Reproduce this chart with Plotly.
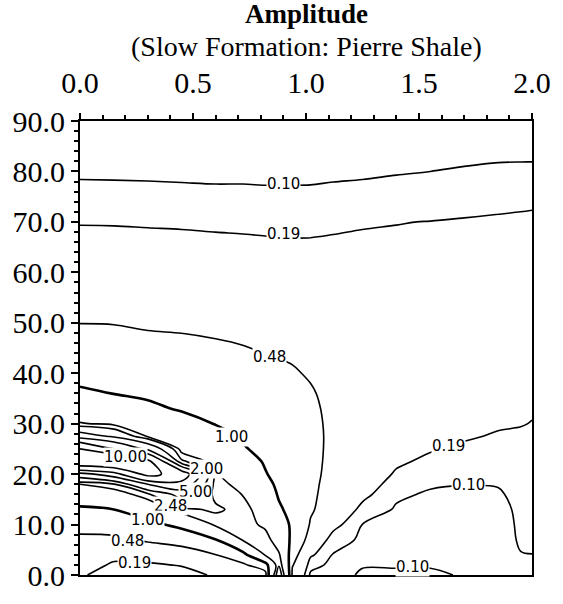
import numpy as np
import plotly.graph_objects as go

# Grid of the amplitude field: x = frequency ratio, y = angle (degrees)
x_vals = [0.0, 0.15, 0.3, 0.45, 0.6, 0.72, 0.82, 0.88, 0.94, 1.02,
          1.12, 1.25, 1.4, 1.55, 1.7, 1.85, 1.95, 2.0]
y_vals = [0, 2, 4, 7, 10, 13, 16, 18, 20, 22.5, 25, 27.5, 30, 33, 36,
          40, 45, 50, 57, 64, 70, 76, 82, 90]

# Amplitude along each x column (bottom to top, one value per y_vals entry)
amp_x000 = [0.21, 0.26, 0.31, 0.41, 0.60, 0.90, 1.40, 2.00, 4.30, 13.0, 10.0, 4.20,
            2.05, 1.45, 1.08, 0.84, 0.62, 0.475, 0.34, 0.245, 0.183, 0.108, 0.088, 0.07]
amp_x015 = [0.12, 0.17, 0.23, 0.41, 0.65, 1.00, 1.60, 2.40, 6.0, 14.0, 7.0, 3.3,
            1.85, 1.35, 0.99, 0.80, 0.60, 0.47, 0.335, 0.243, 0.182, 0.108, 0.087, 0.07]
amp_x030 = [0.11, 0.17, 0.26, 0.52, 0.85, 1.35, 2.35, 5.0, 11.0, 10.8, 4.6, 1.93,
            1.53, 1.10, 0.92, 0.76, 0.57, 0.44, 0.33, 0.24, 0.178, 0.107, 0.087, 0.07]
amp_x045 = [0.13, 0.20, 0.33, 0.60, 1.15, 2.30, 4.0, 6.3, 8.5, 2.6, 1.75, 1.45,
            1.20, 0.95, 0.83, 0.67, 0.55, 0.43, 0.32, 0.235, 0.175, 0.106, 0.086, 0.069]
amp_x060 = [0.21, 0.30, 0.47, 0.98, 2.10, 2.60, 2.30, 2.20, 2.05, 1.75, 1.40, 1.18,
            0.98, 0.87, 0.76, 0.64, 0.52, 0.41, 0.31, 0.225, 0.172, 0.105, 0.085, 0.068]
amp_x072 = [0.28, 0.42, 0.75, 2.05, 2.30, 2.25, 1.98, 1.80, 1.50, 1.25, 1.04, 0.95,
            0.88, 0.79, 0.70, 0.60, 0.49, 0.40, 0.30, 0.22, 0.170, 0.105, 0.085, 0.068]
amp_x082 = [0.35, 0.70, 2.05, 2.30, 1.85, 1.60, 1.30, 1.15, 1.03, 0.95, 0.88, 0.82,
            0.75, 0.68, 0.62, 0.55, 0.46, 0.39, 0.30, 0.215, 0.168, 0.104, 0.085, 0.068]
amp_x088 = [3.0, 2.40, 2.10, 1.55, 1.30, 1.07, 0.95, 0.90, 0.85, 0.80, 0.75, 0.71,
            0.67, 0.62, 0.57, 0.52, 0.45, 0.38, 0.29, 0.21, 0.167, 0.104, 0.085, 0.068]
amp_x094 = [0.40, 0.50, 0.60, 0.85, 0.90, 0.85, 0.80, 0.77, 0.74, 0.70, 0.67, 0.64,
            0.61, 0.58, 0.55, 0.50, 0.44, 0.37, 0.29, 0.21, 0.167, 0.104, 0.085, 0.068]
amp_x102 = [0.085, 0.13, 0.21, 0.32, 0.45, 0.52, 0.54, 0.55, 0.56, 0.56, 0.56, 0.55,
            0.54, 0.52, 0.50, 0.46, 0.42, 0.36, 0.28, 0.21, 0.168, 0.104, 0.086, 0.068]
amp_x112 = [0.07, 0.08, 0.095, 0.14, 0.23, 0.30, 0.35, 0.37, 0.39, 0.41, 0.42, 0.43,
            0.43, 0.43, 0.42, 0.40, 0.37, 0.33, 0.27, 0.215, 0.172, 0.106, 0.087, 0.07]
amp_x125 = [0.11, 0.095, 0.08, 0.085, 0.098, 0.16, 0.22, 0.25, 0.28, 0.30, 0.32, 0.33,
            0.335, 0.335, 0.33, 0.32, 0.30, 0.28, 0.25, 0.22, 0.18, 0.108, 0.088, 0.072]
amp_x140 = [0.11, 0.095, 0.075, 0.07, 0.075, 0.09, 0.115, 0.145, 0.175, 0.21, 0.235, 0.25,
            0.26, 0.265, 0.265, 0.26, 0.255, 0.245, 0.235, 0.215, 0.187, 0.112, 0.09, 0.073]
amp_x155 = [0.11, 0.095, 0.07, 0.06, 0.06, 0.07, 0.09, 0.11, 0.13, 0.165, 0.20, 0.22,
            0.235, 0.24, 0.245, 0.245, 0.24, 0.235, 0.228, 0.215, 0.192, 0.116, 0.092, 0.074]
amp_x170 = [0.095, 0.085, 0.07, 0.06, 0.06, 0.07, 0.085, 0.102, 0.12, 0.145, 0.175, 0.20,
            0.215, 0.225, 0.23, 0.235, 0.235, 0.23, 0.225, 0.218, 0.20, 0.125, 0.095, 0.076]
amp_x185 = [0.08, 0.075, 0.065, 0.06, 0.062, 0.07, 0.09, 0.105, 0.12, 0.14, 0.16, 0.182,
            0.20, 0.21, 0.22, 0.228, 0.232, 0.23, 0.225, 0.22, 0.205, 0.145, 0.098, 0.078]
amp_x195 = [0.08, 0.085, 0.097, 0.11, 0.115, 0.12, 0.125, 0.13, 0.14, 0.15, 0.165, 0.175,
            0.195, 0.205, 0.215, 0.225, 0.23, 0.23, 0.225, 0.222, 0.21, 0.15, 0.099, 0.08]
amp_x200 = [0.085, 0.09, 0.099, 0.115, 0.12, 0.125, 0.13, 0.135, 0.142, 0.15, 0.16, 0.172,
            0.187, 0.20, 0.212, 0.222, 0.228, 0.23, 0.228, 0.225, 0.212, 0.155, 0.099, 0.08]

# Contour levels (labelled ones plus two unlabelled inner levels)
levels = [0.10, 0.19, 0.48, 1.00, 2.00, 2.48, 3.50, 5.00, 7.00, 10.00]

# Inline label placement: (level, x, y)
label_spots = [
    (0.10, 0.90, 77.5), (0.19, 0.90, 67.6), (0.48, 0.84, 43.2),
    (1.00, 0.67, 27.3), (10.00, 0.20, 23.3), (2.00, 0.56, 21.0),
    (5.00, 0.51, 16.5), (2.48, 0.40, 13.6), (1.00, 0.30, 11.0),
    (0.48, 0.21, 6.8), (0.19, 0.24, 2.3), (0.19, 1.63, 25.6),
    (0.10, 1.72, 17.8), (0.10, 1.47, 1.5),
]

columns = [amp_x000, amp_x015, amp_x030, amp_x045, amp_x060, amp_x072, amp_x082,
           amp_x088, amp_x094, amp_x102, amp_x112, amp_x125, amp_x140, amp_x155,
           amp_x170, amp_x185, amp_x195, amp_x200]
z = np.array(columns).T  # rows follow y_vals, columns follow x_vals

fig = go.Figure()
for lev in levels:
    fig.add_trace(go.Contour(
        x=x_vals, y=y_vals, z=z,
        contours=dict(start=lev, end=lev, size=1.0, coloring="none", showlabels=False),
        line=dict(color="black", width=2.6 if lev == 1.00 else 1.6, smoothing=1.0),
        showscale=False, hoverinfo="skip",
    ))

for lev, lx, ly in label_spots:
    fig.add_annotation(
        x=lx, y=ly, text=f"{lev:.2f}", showarrow=False,
        font=dict(family="DejaVu Sans, Arial, sans-serif", size=15, color="black"),
        bgcolor="white", borderpad=0,
    )

serif = "Liberation Serif, Times New Roman, serif"
fig.add_annotation(x=0.5, y=1.236, xref="paper", yref="paper", showarrow=False,
                   yanchor="middle",
                   text="<b>Amplitude</b>", font=dict(family=serif, size=27, color="black"))
fig.add_annotation(x=0.5, y=1.165, xref="paper", yref="paper", showarrow=False,
                   yanchor="middle",
                   text="(Slow Formation: Pierre Shale)",
                   font=dict(family=serif, size=28, color="black"))

fig.update_xaxes(
    side="top", range=[0, 2], tickvals=[0, 0.5, 1.0, 1.5, 2.0], tickformat=".1f",
    ticks="outside", ticklen=6, tickwidth=1.5, tickcolor="black",
    minor=dict(dtick=0.1, ticks="outside", ticklen=4, tickcolor="black"),
    showline=True, mirror=True, linecolor="black", linewidth=2,
    showgrid=False, zeroline=False, ticklabelstandoff=8,
    tickfont=dict(family=serif, size=30, color="black"),
)
fig.update_yaxes(
    range=[0, 90], dtick=10, tickformat=".1f",
    ticks="outside", ticklen=7, tickwidth=1.5, tickcolor="black",
    minor=dict(dtick=2, ticks="outside", ticklen=4, tickcolor="black"),
    showline=True, mirror=True, linecolor="black", linewidth=2,
    showgrid=False, zeroline=False,
    tickfont=dict(family=serif, size=30, color="black"),
)
fig.update_layout(
    width=563, height=604,
    margin=dict(l=70, r=19, t=121, b=17),
    paper_bgcolor="white", plot_bgcolor="white",
    showlegend=False,
)
fig.write_html("out.html")
